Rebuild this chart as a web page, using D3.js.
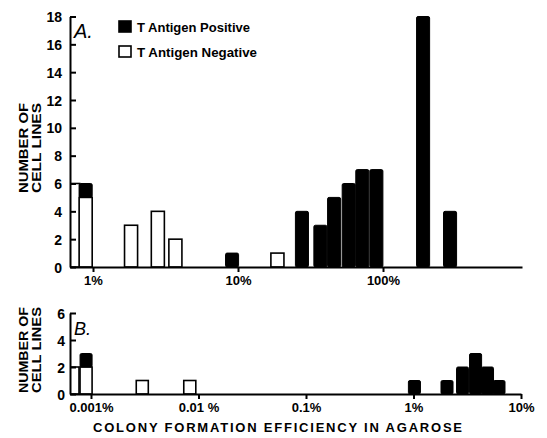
<!DOCTYPE html>
<html>
<head>
<meta charset="utf-8">
<script src="https://cdn.jsdelivr.net/npm/d3@7"></script>
<style>
  body { margin: 0; background: #fff; }
  text { font-family: "Liberation Sans", Arial, sans-serif; fill: #000; }
</style>
</head>
<body>
<div id="chart"></div>
<script>
var svgWidth = 547;
var svgHeight = 438;

// Panel A: colony formation efficiency (%) bins, T antigen positive / negative counts
var binsA = [0.73, 0.89, 1.83, 2.8, 3.7, 9.1, 18.7, 27.6, 37, 46, 58, 72, 90, 189, 290];
var posA  = [0,    1,    0,    0,   0,   1,   0,    4,    3,  5,  6,  7,  7,  18,  4];
var negA  = [6,    5,    3,    4,   2,   0,   1,    0,    0,  0,  0,  0,  0,  0,   0];
var xTicksA = [1, 10, 100];
var xLabelsA = ["1%", "10%", "100%"];
var yTicksA = [0, 2, 4, 6, 8, 10, 12, 14, 16, 18];

// Panel B
var binsB = [0.00068, 0.0009, 0.003, 0.0083, 1.02, 2.05, 2.86, 3.78, 4.88, 6.24];
var posB  = [0,       1,      0,     0,      1,    1,    2,    3,    2,    1];
var negB  = [2,       2,      1,     1,      0,    0,    0,    0,    0,    0];
var xTicksB = [0.001, 0.01, 0.1, 1, 10];
var xLabelsB = ["0.001%", "0.01 %", "0.1%", "1%", "10%"];
var yTicksB = [0, 2, 4, 6];

var svg = d3.select("#chart").append("svg")
  .attr("width", svgWidth)
  .attr("height", svgHeight);

var xA = d3.scaleLog().domain([0.694, 909]).range([70, 522]);
var yA = d3.scaleLinear().domain([0, 18]).range([267, 16.5]);
var xB = d3.scaleLog().domain([0.000638, 10]).range([70, 521]);
var yB = d3.scaleLinear().domain([0, 6]).range([394, 313]);

function drawPanel(id, x, y, bins, pos, neg, barW, xTicks, xLabels, yTicks, labelPad) {
  var g = svg.append("g");

  g.append("clipPath").attr("id", "clip" + id)
    .append("rect")
    .attr("x", x.range()[0]).attr("y", 0)
    .attr("width", x.range()[1] - x.range()[0])
    .attr("height", svgHeight);

  var bars = g.append("g").attr("clip-path", "url(#clip" + id + ")");
  var half = Math.pow(10, barW / 2);

  bins.forEach(function(c, i) {
    var x0 = x(c / half), x1 = x(c * half);
    if (neg[i] > 0) {
      bars.append("rect")
        .attr("x", x0).attr("width", x1 - x0)
        .attr("y", y(neg[i])).attr("height", y(0) - y(neg[i]))
        .attr("fill", "#fff").attr("stroke", "#000").attr("stroke-width", 1.6);
    }
    if (pos[i] > 0) {
      bars.append("rect")
        .attr("x", x0).attr("width", x1 - x0)
        .attr("y", y(neg[i] + pos[i])).attr("height", y(neg[i]) - y(neg[i] + pos[i]))
        .attr("rx", 1.5)
        .attr("fill", "#000").attr("stroke", "#000").attr("stroke-width", 1);
    }
  });

  var xAxis = g.append("g")
    .attr("transform", "translate(0," + y(0) + ")")
    .call(d3.axisBottom(x).tickValues(xTicks)
      .tickFormat(function(d, i) { return xLabels[i]; })
      .tickSizeInner(5).tickSizeOuter(0).tickPadding(4));

  var yAxis = g.append("g")
    .attr("transform", "translate(" + x.range()[0] + ",0)")
    .call(d3.axisLeft(y).tickValues(yTicks).tickFormat(d3.format("d"))
      .tickSizeInner(-6).tickSizeOuter(0).tickPadding(labelPad));

  [xAxis, yAxis].forEach(function(a) {
    a.selectAll("path, line").attr("stroke", "#000").attr("stroke-width", 2);
    a.selectAll("text").style("font-family", "'Liberation Sans', Arial, sans-serif")
      .attr("font-weight", "bold").attr("fill", "#000");
  });
  xAxis.selectAll("text").attr("font-size", 13);
  yAxis.selectAll("text").attr("font-size", 14).attr("dy", "0.36em");
  return g;
}

drawPanel("A", xA, yA, binsA, posA, negA, 0.09, xTicksA, xLabelsA, yTicksA, 8);
drawPanel("B", xB, yB, binsB, posB, negB, 0.112, xTicksB, xLabelsB, yTicksB, 5);

// panel letters
svg.append("text").attr("x", 74).attr("y", 38)
  .attr("font-size", 20).attr("font-style", "italic").text("A.");
svg.append("text").attr("x", 74).attr("y", 335)
  .attr("font-size", 18).attr("font-style", "italic").text("B.");

// legend
var legend = [
  { label: "T Antigen Positive", fill: "#000", y: 21, len: 113 },
  { label: "T Antigen Negative", fill: "#fff", y: 46, len: 120 }
];
legend.forEach(function(d) {
  svg.append("rect").attr("x", 119).attr("y", d.y).attr("width", 12).attr("height", 11)
    .attr("fill", d.fill).attr("stroke", "#000").attr("stroke-width", 1.6);
  svg.append("text").attr("x", 137).attr("y", d.y + 11)
    .attr("font-size", 12).attr("font-weight", "bold")
    .attr("textLength", d.len).attr("lengthAdjust", "spacingAndGlyphs")
    .text(d.label);
});

// y axis titles
function yTitle(cy, len) {
  [["NUMBER OF", 28], ["CELL LINES", 41]].forEach(function(t) {
    svg.append("text")
      .attr("transform", "translate(" + t[1] + "," + cy + ") rotate(-90)")
      .attr("text-anchor", "middle")
      .attr("font-size", 13).attr("font-weight", "bold")
      .attr("textLength", len).attr("lengthAdjust", "spacingAndGlyphs")
      .text(t[0]);
  });
}
yTitle(148, 90);
yTitle(350, 86);

// x axis title
svg.append("text").attr("x", 93).attr("y", 432)
  .attr("font-size", 13).attr("font-weight", "bold")
  .attr("textLength", 369).attr("lengthAdjust", "spacing")
  .text("COLONY FORMATION EFFICIENCY IN AGAROSE");
</script>
</body>
</html>
